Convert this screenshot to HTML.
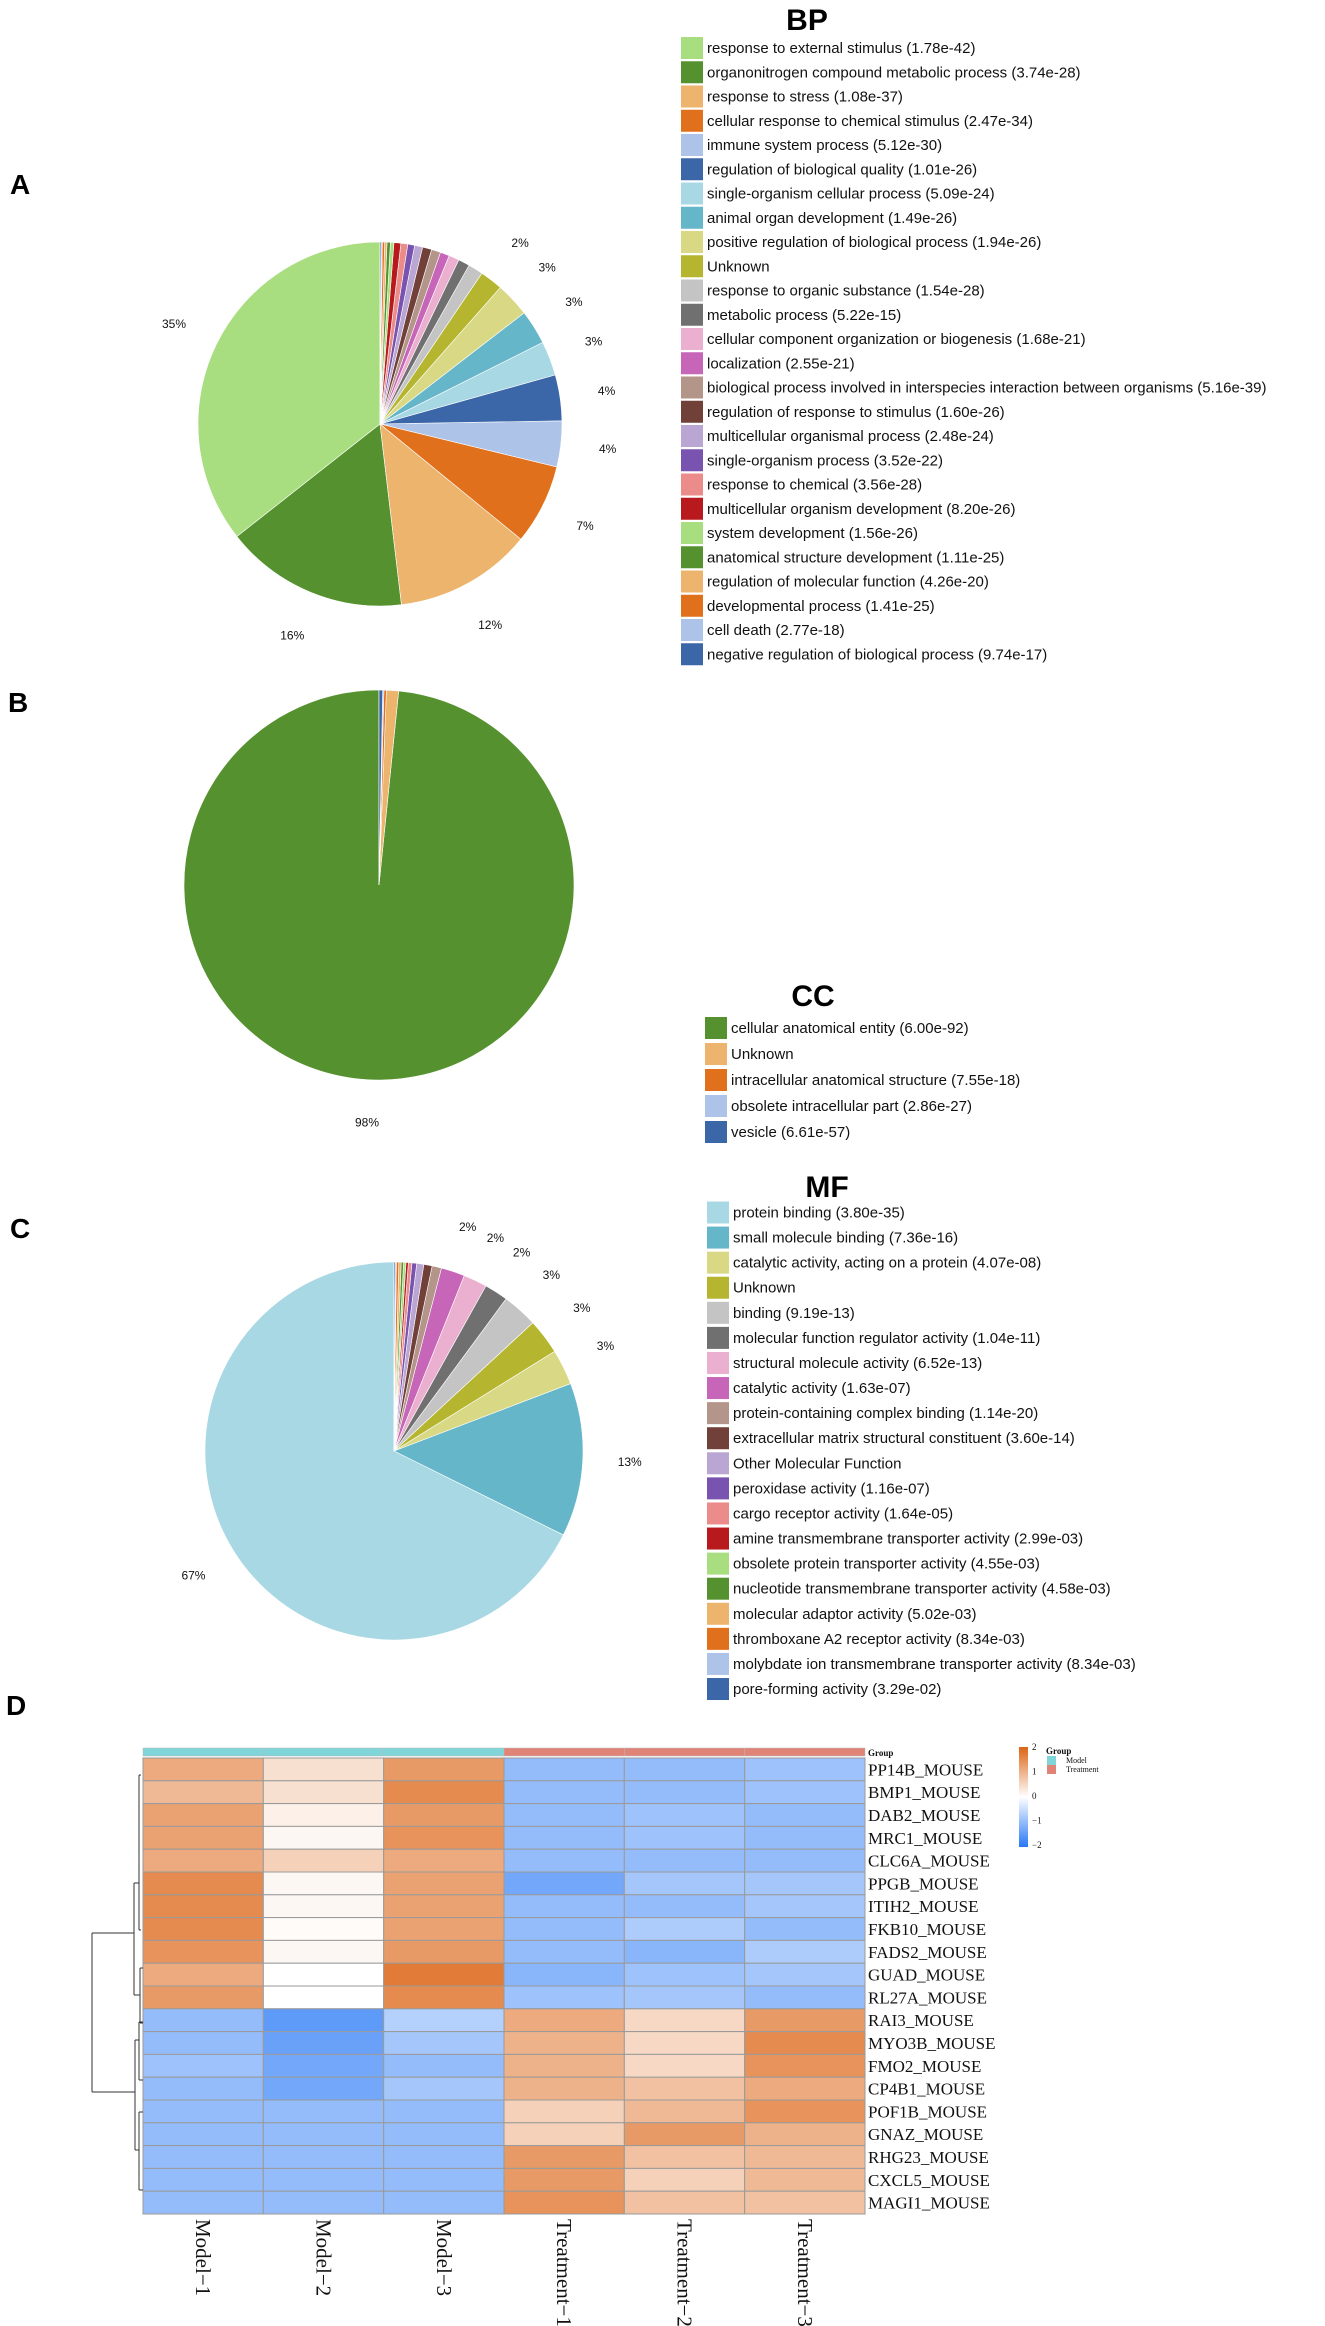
<!DOCTYPE html>
<html><head><meta charset="utf-8"><style>
html,body{margin:0;padding:0;background:#fff;}
svg{display:block;}
.lg{font-family:"Liberation Sans",sans-serif;font-size:15px;fill:#111;}
.pct{font-family:"Liberation Sans",sans-serif;font-size:12px;fill:#111;}
.ttl{font-family:"Liberation Sans",sans-serif;font-size:30px;font-weight:bold;fill:#000;}
.pl{font-family:"Liberation Sans",sans-serif;font-size:28px;font-weight:bold;fill:#000;}
.ser{font-family:"Liberation Serif",serif;fill:#111;}
</style></head><body>
<svg id="fig" width="1325" height="2326" viewBox="0 0 1325 2326" xmlns="http://www.w3.org/2000/svg">
<text class="pl" x="10" y="194">A</text>
<text class="pl" x="8" y="712">B</text>
<text class="pl" x="10" y="1238">C</text>
<text class="pl" x="6" y="1715">D</text>
<g id="gA"></g>
<g id="gB"></g>
<g id="gC"></g>
<g id="gD"></g>
</svg>
<script>
const NS="http://www.w3.org/2000/svg";
const palette=["#a8dd80","#55922f","#ecb46c","#e1701c","#aec3e8","#3b66a8","#a8d8e4","#66b6c9","#d9d985","#b5b52f","#c4c4c4","#707070","#ebafd0","#c765b8","#b4958a","#714039","#b9a6d2","#7853b0","#eb8c8a","#b8191d"];
const bpLabels=["response to external stimulus (1.78e-42)","organonitrogen compound metabolic process (3.74e-28)","response to stress (1.08e-37)","cellular response to chemical stimulus (2.47e-34)","immune system process (5.12e-30)","regulation of biological quality (1.01e-26)","single-organism cellular process (5.09e-24)","animal organ development (1.49e-26)","positive regulation of biological process (1.94e-26)","Unknown","response to organic substance (1.54e-28)","metabolic process (5.22e-15)","cellular component organization or biogenesis (1.68e-21)","localization (2.55e-21)","biological process involved in interspecies interaction between organisms (5.16e-39)","regulation of response to stimulus (1.60e-26)","multicellular organismal process (2.48e-24)","single-organism process (3.52e-22)","response to chemical (3.56e-28)","multicellular organism development (8.20e-26)","system development (1.56e-26)","anatomical structure development (1.11e-25)","regulation of molecular function (4.26e-20)","developmental process (1.41e-25)","cell death (2.77e-18)","negative regulation of biological process (9.74e-17)"];
const bpValues=[35,16,12,7,4,4,3,3,3,2,1.3,1,0.9,0.8,0.8,0.8,0.7,0.6,0.6,0.6,0.3,0.3,0.2,0.2,0.1,0.1];
const ccLabels=["cellular anatomical entity (6.00e-92)","Unknown","intracellular anatomical structure (7.55e-18)","obsolete intracellular part (2.86e-27)","vesicle (6.61e-57)"];
const ccValues=[98,1,0.2,0.1,0.3];
const mfLabels=["protein binding (3.80e-35)","small molecule binding (7.36e-16)","catalytic activity, acting on a protein (4.07e-08)","Unknown","binding (9.19e-13)","molecular function regulator activity (1.04e-11)","structural molecule activity (6.52e-13)","catalytic activity (1.63e-07)","protein-containing complex binding (1.14e-20)","extracellular matrix structural constituent (3.60e-14)","Other Molecular Function","peroxidase activity (1.16e-07)","cargo receptor activity (1.64e-05)","amine transmembrane transporter activity (2.99e-03)","obsolete protein transporter activity (4.55e-03)","nucleotide transmembrane transporter activity (4.58e-03)","molecular adaptor activity (5.02e-03)","thromboxane A2 receptor activity (8.34e-03)","molybdate ion transmembrane transporter activity (8.34e-03)","pore-forming activity (3.29e-02)"];
const mfValues=[67,13,3,3,3,2,2,2,0.8,0.7,0.6,0.4,0.3,0.2,0.2,0.2,0.2,0.2,0.1,0.1];
const ccColors=["#55922f","#ecb46c","#e1701c","#aec3e8","#3b66a8"];
const mfColors=["#a8d8e4","#66b6c9","#d9d985","#b5b52f","#c4c4c4","#707070","#ebafd0","#c765b8","#b4958a","#714039","#b9a6d2","#7853b0","#eb8c8a","#b8191d","#a8dd80","#55922f","#ecb46c","#e1701c","#aec3e8","#3b66a8"];

function mk(tag,attrs,parent){const e=document.createElementNS(NS,tag);for(const k in attrs)e.setAttribute(k,attrs[k]);parent.appendChild(e);return e;}

function pie(g,cx,cy,r,vals,cols,showPct,labelR,name){
  const tot=vals.reduce((a,b)=>a+b,0);let acc=0;
  vals.forEach((v,i)=>{
    const a0=acc/tot*2*Math.PI, a1=(acc+v)/tot*2*Math.PI; acc+=v;
    const p=(a)=>[cx-Math.sin(a)*r, cy-Math.cos(a)*r];
    const s=p(a0), e=p(a1), large=(a1-a0)>Math.PI?1:0;
    const path=mk("path",{d:`M${cx},${cy}L${s[0]},${s[1]}A${r},${r} 0 ${large} 0 ${e[0]},${e[1]}Z`,fill:cols[i%cols.length],stroke:"#fff","stroke-width":0.6},g);
    
    
    if(v>=showPct){
      const am=(a0+a1)/2;
      const t=mk("text",{x:cx-Math.sin(am)*labelR,y:cy-Math.cos(am)*labelR+4,"text-anchor":"middle",class:"pct"},g);
      t.textContent=Math.round(v)+"%";
      
      
    }
  });
}
function legend(g,title,tx,ty,sx,y0,dy,labels,cols,name){
  const t=mk("text",{x:tx,y:ty,"text-anchor":"middle",class:"ttl"},g);t.textContent=title;
  
  
  labels.forEach((l,i)=>{
    const y=y0+i*dy;
    const r=mk("rect",{x:sx,y:y-11,width:22,height:22,fill:cols[i%cols.length]},g);
    
    
    const tt=mk("text",{x:sx+26,y:y+5,class:"lg"},g);tt.textContent=l;
    
    
  });
}
const gA=document.getElementById("gA"),gB=document.getElementById("gB"),gC=document.getElementById("gC"),gD=document.getElementById("gD");
pie(gA,380,424,182,bpValues,palette,2,229,"bp");
legend(gA,"BP",807,30,681,48,24.25,bpLabels,palette,"bp");
pie(gB,379,885,195,ccValues,ccColors,50,238,"cc");
legend(gB,"CC",813,1006,705,1028,26,ccLabels,ccColors,"cc");
pie(gC,394,1451,189,mfValues,mfColors,2,236,"mf");
legend(gC,"MF",827,1197,707,1212.5,25.08,mfLabels,mfColors,"mf");

const genes=["PP14B_MOUSE","BMP1_MOUSE","DAB2_MOUSE","MRC1_MOUSE","CLC6A_MOUSE","PPGB_MOUSE","ITIH2_MOUSE","FKB10_MOUSE","FADS2_MOUSE","GUAD_MOUSE","RL27A_MOUSE","RAI3_MOUSE","MYO3B_MOUSE","FMO2_MOUSE","CP4B1_MOUSE","POF1B_MOUSE","GNAZ_MOUSE","RHG23_MOUSE","CXCL5_MOUSE","MAGI1_MOUSE"];
const samples=["Model\u22121","Model\u22122","Model\u22123","Treatment\u22121","Treatment\u22122","Treatment\u22123"];
const groups=["Model","Model","Model","Treatment","Treatment","Treatment"];
const zscores=[
[1.1,0.4,1.3,-1.0,-1.0,-0.9],
[0.9,0.4,1.5,-1.0,-1.0,-0.9],
[1.2,0.2,1.3,-1.0,-0.9,-1.0],
[1.2,0.1,1.4,-1.0,-0.9,-1.0],
[1.1,0.6,1.1,-1.0,-1.0,-1.0],
[1.5,0.1,1.2,-1.3,-0.85,-0.85],
[1.5,0.1,1.2,-1.0,-1.0,-0.85],
[1.5,0.05,1.2,-1.0,-0.75,-1.0],
[1.4,0.1,1.3,-1.0,-1.1,-0.75],
[1.1,0.0,1.7,-1.1,-0.9,-0.85],
[1.3,0.0,1.5,-0.9,-0.85,-1.0],
[-1.0,-1.5,-0.7,1.1,0.5,1.3],
[-1.0,-1.4,-0.85,1.0,0.5,1.5],
[-0.9,-1.3,-1.0,1.0,0.5,1.4],
[-1.0,-1.3,-0.85,1.0,0.8,1.1],
[-1.0,-1.0,-1.0,0.6,0.9,1.4],
[-1.0,-1.0,-1.0,0.6,1.3,1.0],
[-1.0,-1.0,-1.0,1.3,0.8,0.9],
[-1.0,-1.0,-1.0,1.3,0.6,0.9],
[-1.0,-1.0,-1.0,1.4,0.8,0.8]];
const hx0=143,hx1=865,hy0=1758,hy1=2214;
const cw=(hx1-hx0)/samples.length, ch=(hy1-hy0)/genes.length;
const xPos=(j)=>hx0+j*cw, yPos=(i)=>hy0+i*ch;
function col(z){const t=Math.max(-2,Math.min(2,z))/2;let c;
  if(t>=0)c=[255+(220-255)*t,255+(100-255)*t,255+(20-255)*t];else{const u=-t;c=[255+(40-255)*u,255+(120-255)*u,255+(245-255)*u];}
  return `rgb(${c.map(Math.round).join(",")})`;}
groups.forEach((gname,j)=>{
  const r=mk("rect",{x:xPos(j),y:1748,width:cw,height:8,fill:gname==="Model"?"#7fd5d8":"#e08478",stroke:"#bbb","stroke-width":0.5},gD);
  
  
});
zscores.forEach((row,i)=>{row.forEach((z,j)=>{
  const r=mk("rect",{x:xPos(j),y:yPos(i),width:cw,height:ch,fill:col(z),stroke:"#9a9a9a","stroke-width":1},gD);
  
  
});
  const t=mk("text",{x:868,y:yPos(i)+ch/2+6,class:"ser","font-size":"17"},gD);t.textContent=genes[i];
  
  
});
samples.forEach((s,j)=>{
  const x=xPos(j)+cw/2-7, y=2219;
  const t=mk("text",{x:x,y:y,class:"ser","font-size":"21",transform:`rotate(90 ${x} ${y})`},gD);t.textContent=s;
  
  
});
const gt=mk("text",{x:868,y:1756,class:"ser","font-size":"9","font-weight":"bold"},gD);gt.textContent="Group";

const defs=mk("defs",{},gD);
const lgr=mk("linearGradient",{id:"cs",x1:0,y1:0,x2:0,y2:1},defs);
[[0,col(2)],[0.5,col(0)],[1,col(-2)]].forEach(s=>mk("stop",{offset:s[0],"stop-color":s[1]},lgr));
const cb=mk("rect",{x:1019,y:1747,width:9,height:100,fill:"url(#cs)"},gD);

const cticks=["2","1","0","\u22121","\u22122"];
cticks.forEach((l,k)=>{const t=mk("text",{x:1032,y:1750+k*24.5,class:"ser","font-size":"9"},gD);t.textContent=l;
  });
const g2=mk("text",{x:1046,y:1754,class:"ser","font-size":"9","font-weight":"bold"},gD);g2.textContent="Group";

[["Model","#7fd5d8"],["Treatment","#e08478"]].forEach((p,k)=>{
  const r=mk("rect",{x:1047,y:1756+k*9,width:9,height:9,fill:p[1]},gD);
  
  const t=mk("text",{x:1066,y:1763+k*9,class:"ser","font-size":"8"},gD);t.textContent=p[0];
  
});
const dp="M92,1933H134M92,2092H135M92,1933V2092"+
"M134,1883V1995M134,1883H139M134,1995H140M139,1775V1930M139,1775H141M139,1930H141M140,1968V2023M140,1968H143M140,2023H143"+
"M135,2040V2150M135,2040H139M135,2150H139M139,2022V2080M139,2022H143M139,2080H143M139,2112V2190M139,2112H143M139,2190H143";
const dd=mk("path",{d:dp,stroke:"#333",fill:"none","stroke-width":1},gD);

</script>
</body></html>
